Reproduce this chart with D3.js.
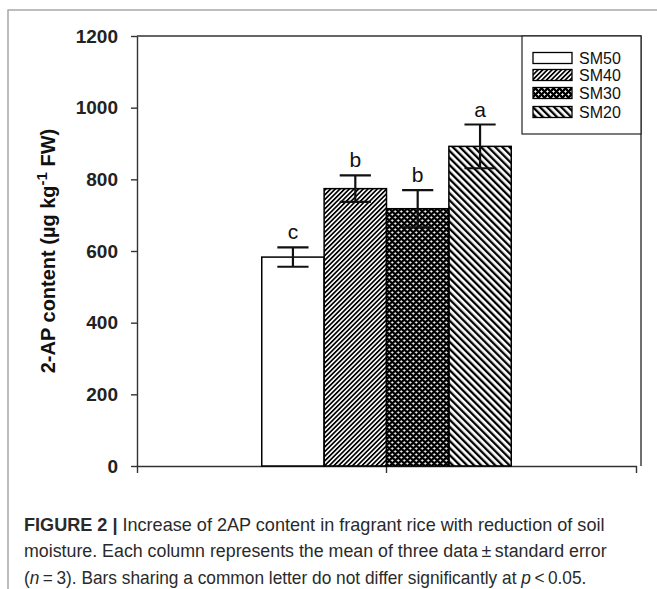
<!DOCTYPE html>
<html>
<head>
<meta charset="utf-8">
<script src="https://cdn.jsdelivr.net/npm/d3@7"></script>
<style>
  body { margin: 0; background: #fff; }
  svg { display: block; }
</style>
</head>
<body>
<script>
// data
let groups = ['SM50', 'SM40', 'SM30', 'SM20']
let means = [583, 774, 718, 892]
let errs = [27, 37, 52, 61]
let letters = ['c', 'b', 'b', 'a']
let yTicks = [0, 200, 400, 600, 800, 1000, 1200]

let w = 657
let h = 589
let padL = 137, padR = 636, padT = 36, padB = 466
let frameRight = 641

let svg = d3.select('body').append('svg').attr('width', w).attr('height', h)

// patterns
let defs = svg.append('defs')
defs.append('pattern').attr('id', 'p40')
  .attr('patternUnits', 'userSpaceOnUse').attr('width', 3.3).attr('height', 10)
  .attr('patternTransform', 'rotate(45)')
  .append('rect').attr('x', 0).attr('y', 0).attr('width', 1.7).attr('height', 10).attr('fill', '#000')

let p30 = defs.append('pattern').attr('id', 'p30')
  .attr('patternUnits', 'userSpaceOnUse').attr('width', 6).attr('height', 6)
p30.append('rect').attr('width', 6).attr('height', 6).attr('fill', '#000')
;[[1.5, 1.5], [4.5, 4.5]].forEach(c => {
  p30.append('rect').attr('x', c[0] - 1.2).attr('y', c[1] - 0.5).attr('width', 2.4).attr('height', 1).attr('fill', '#fff')
  p30.append('rect').attr('x', c[0] - 0.5).attr('y', c[1] - 1.2).attr('width', 1).attr('height', 2.4).attr('fill', '#fff')
})

defs.append('pattern').attr('id', 'p20')
  .attr('patternUnits', 'userSpaceOnUse').attr('width', 5).attr('height', 10)
  .attr('patternTransform', 'rotate(-45)')
  .append('rect').attr('x', 0).attr('y', 0).attr('width', 2.3).attr('height', 10).attr('fill', '#000')

let fills = { SM50: '#fff', SM40: 'url(#p40)', SM30: 'url(#p30)', SM20: 'url(#p20)' }

// outer figure frame
svg.append('path').attr('d', 'M8,' + h + ' V10 H' + w)
  .attr('fill', 'none').attr('stroke', '#a8a8a8').attr('stroke-width', 1.5)

// scales
let x0 = d3.scaleBand().domain(['2AP']).range([padL, padR]).padding(1 / 3)
let x1 = d3.scaleBand().domain(groups).range([0, x0.bandwidth()])
let y = d3.scaleLinear().domain([0, 1200]).range([padB, padT])

// frame lines (top and right)
svg.append('path').attr('d', 'M' + padL + ',' + padT + ' H' + frameRight + ' V' + padB)
  .attr('fill', 'none').attr('stroke', '#333').attr('stroke-width', 1.4)

// axes
let yAxis = svg.append('g').attr('transform', 'translate(' + padL + ',0)')
  .call(d3.axisLeft(y).tickValues(yTicks).tickFormat(d3.format('d')).tickSize(6).tickSizeOuter(0).tickPadding(13))
yAxis.selectAll('text').attr('font-family', 'Liberation Sans, Arial, sans-serif')
  .attr('font-size', 19).attr('font-weight', 'bold').attr('fill', '#222')

let xAxis = svg.append('g').attr('transform', 'translate(0,' + padB + ')')
  .call(d3.axisBottom(x0).tickSize(7).tickSizeOuter(7).tickFormat(''))

svg.selectAll('.domain, .tick line').attr('stroke', '#333').attr('stroke-width', 1.4)

// bars
let g = svg.append('g').attr('transform', 'translate(' + x0('2AP') + ',0)')
g.selectAll('rect.bar')
  .data(groups)
  .enter()
  .append('rect')
  .attr('class', 'bar')
  .attr('x', d => x1(d))
  .attr('y', (d, i) => y(means[i]))
  .attr('width', x1.bandwidth())
  .attr('height', (d, i) => y(0) - y(means[i]))
  .attr('fill', d => fills[d])
  .attr('stroke', '#000')
  .attr('stroke-width', 1.5)

// error bars
let capW = x1.bandwidth() / 2
groups.forEach((d, i) => {
  let cx = x1(d) + x1.bandwidth() / 2
  let hi = y(means[i] + errs[i]), lo = y(means[i] - errs[i])
  g.append('path')
    .attr('d', 'M' + cx + ',' + hi + ' V' + lo +
      ' M' + (cx - capW / 2) + ',' + hi + ' h' + capW +
      ' M' + (cx - capW / 2) + ',' + lo + ' h' + capW)
    .attr('fill', 'none').attr('stroke', '#111').attr('stroke-width', 2.2)
  g.append('text')
    .attr('x', cx).attr('y', hi - 8)
    .attr('text-anchor', 'middle')
    .attr('font-family', 'Liberation Sans, Arial, sans-serif')
    .attr('font-size', 21).attr('fill', '#111')
    .text(letters[i])
})

// legend
let lg = svg.append('g')
lg.append('rect').attr('x', 522).attr('y', padT).attr('width', frameRight - 522).attr('height', 98)
  .attr('fill', '#fff').attr('stroke', '#222').attr('stroke-width', 1.2)
let legY = [58, 75, 93, 112]
groups.forEach((d, i) => {
  lg.append('rect').attr('x', 533).attr('y', legY[i] - 5.5).attr('width', 39).attr('height', 11)
    .attr('fill', fills[d]).attr('stroke', '#000').attr('stroke-width', 1.3)
  lg.append('text').attr('x', 579).attr('y', legY[i] + 6)
    .attr('font-family', 'Liberation Sans, Arial, sans-serif').attr('font-size', 16).attr('fill', '#111')
    .text(d)
})

// y label
let yl = svg.append('text')
  .attr('transform', 'translate(55,' + ((padT + padB) / 2) + ') rotate(-90)')
  .attr('text-anchor', 'middle')
  .attr('font-family', 'Liberation Sans, Arial, sans-serif')
  .attr('font-size', 20).attr('font-weight', 'bold').attr('fill', '#111')
yl.append('tspan').text('2-AP content (\u00b5g kg')
yl.append('tspan').attr('dy', -8).attr('font-size', 15).text('-1')
yl.append('tspan').attr('dy', 8).text(' FW)')

// caption: each line squeezed horizontally to the reference width
let capFont = 'Liberation Sans Narrow, Liberation Sans, Arial, sans-serif'
function capLine(yPos) {
  return svg.append('text').attr('x', 0).attr('y', 0)
    .attr('font-family', capFont).attr('font-size', 18).attr('fill', '#2a2a2a')
    .attr('data-y', yPos)
}
function fit(t, len) {
  let L = t.node().getComputedTextLength()
  t.attr('transform', 'translate(24,' + t.attr('data-y') + ') scale(' + (len / L) + ',1)')
}
let c1 = capLine(531)
c1.append('tspan').attr('font-weight', 'bold').text('FIGURE 2 | ')
c1.append('tspan').text('Increase of 2AP content in fragrant rice with reduction of soil')
fit(c1, 581)

let c2 = capLine(557)
c2.append('tspan').text('moisture. Each column represents the mean of three data\u2009\u00b1\u2009standard error')
fit(c2, 583)

let c3 = capLine(584)
c3.append('tspan').text('(')
c3.append('tspan').attr('font-style', 'italic').text('n')
c3.append('tspan').text('\u2009=\u20093). Bars sharing a common letter do not differ significantly at ')
c3.append('tspan').attr('font-style', 'italic').text('p')
c3.append('tspan').text('\u2009<\u20090.05.')
fit(c3, 563)
</script>
</body>
</html>
